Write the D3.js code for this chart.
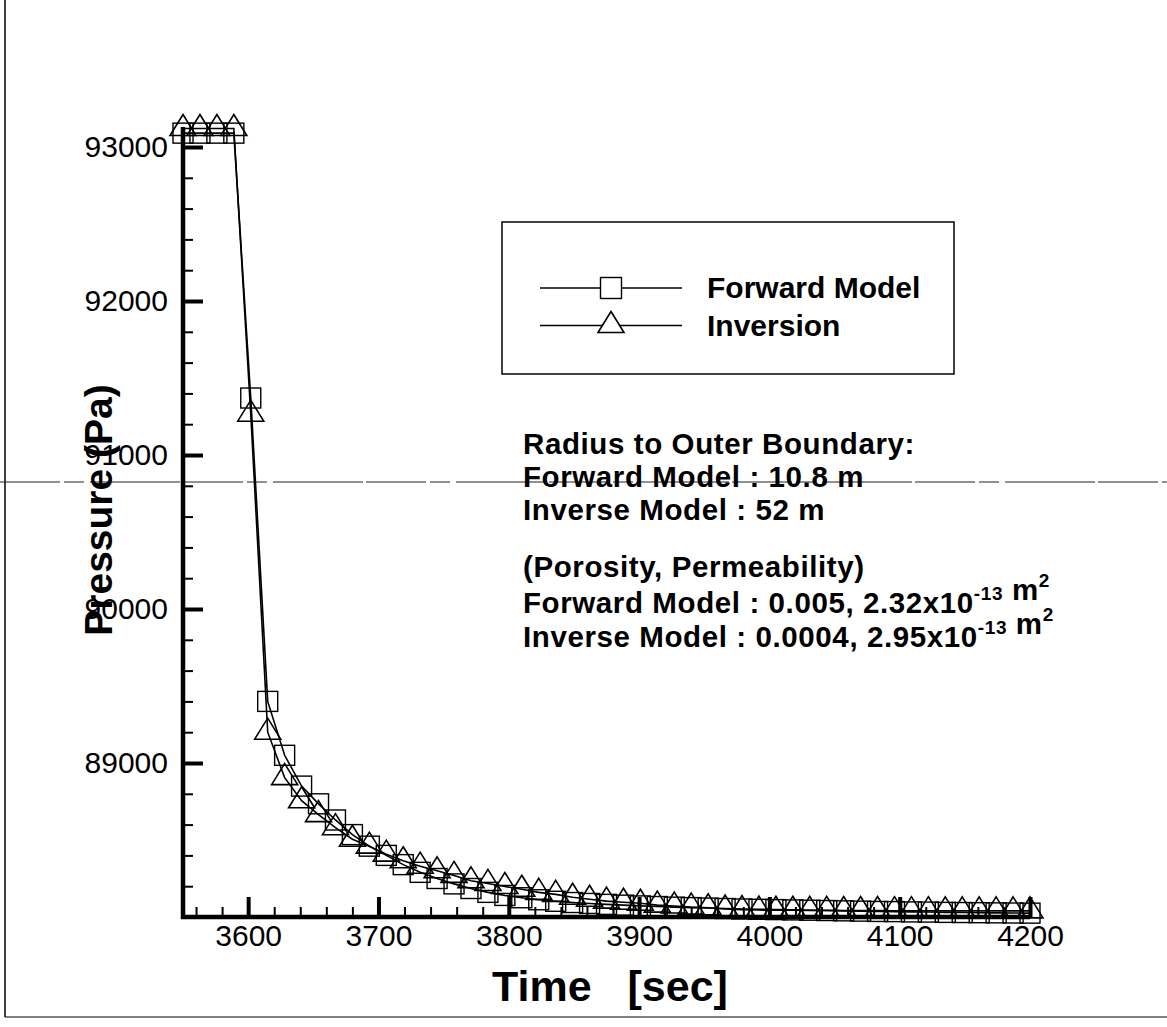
<!DOCTYPE html>
<html>
<head>
<meta charset="utf-8">
<script src="https://cdn.jsdelivr.net/npm/d3@7"></script>
<style>
  body { margin: 0; background: #fff; }
  svg { display: block; font-family: "Liberation Sans", Arial, Helvetica, sans-serif; }
</style>
</head>
<body>
<div id="chart"></div>
<script>
// Time samples [sec]
const times = [3550, 3563, 3576, 3589, 3602, 3615, 3628, 3641, 3654, 3667,
  3680, 3693, 3706, 3719, 3732, 3745, 3758, 3771, 3784, 3797,
  3810, 3823, 3836, 3849, 3862, 3875, 3888, 3901, 3914, 3927,
  3940, 3953, 3966, 3979, 3992, 4005, 4018, 4031, 4044, 4057,
  4070, 4083, 4096, 4109, 4122, 4135, 4148, 4161, 4174, 4187, 4200];

// Pressure [Pa], forward model (squares)
const forwardModel = [93090, 93090, 93090, 93090, 91370, 89400, 89050, 88850, 88735, 88630,
  88535, 88460, 88400, 88340, 88290, 88250, 88215, 88185, 88160, 88140,
  88125, 88112, 88102, 88094, 88088, 88082, 88077, 88072, 88068, 88064,
  88061, 88058, 88055, 88052, 88050, 88048, 88046, 88044, 88042, 88040,
  88038, 88036, 88035, 88033, 88032, 88030, 88029, 88028, 88027, 88026, 88025];

// Pressure [Pa], inversion (triangles)
const inversion = [93120, 93120, 93120, 93120, 91265, 89200, 88905, 88755, 88665, 88580,
  88505, 88460, 88408, 88365, 88330, 88300, 88270, 88235, 88218, 88198,
  88180, 88160, 88147, 88128, 88115, 88103, 88096, 88089, 88077, 88071,
  88064, 88060, 88052, 88048, 88045, 88044, 88044, 88043, 88043, 88042,
  88042, 88042, 88041, 88041, 88041, 88040, 88040, 88040, 88040, 88040, 88040];

const xTicks = [3600, 3700, 3800, 3900, 4000, 4100, 4200];
const yTicks = [89000, 90000, 91000, 92000, 93000];

const legendLabels = ["Forward Model", "Inversion"];

const width = 1167, height = 1027;

const svg = d3.select("#chart")
    .append("svg")
    .attr("width", width)
    .attr("height", height);

// page frame left/bottom (scan edge)
svg.append("line")
    .attr("x1", 5).attr("x2", 5).attr("y1", 0).attr("y2", 1017)
    .attr("stroke", "#000").attr("stroke-width", 1.5);
svg.append("line")
    .attr("x1", 5).attr("x2", 1167).attr("y1", 1017).attr("y2", 1017)
    .attr("stroke", "#000").attr("stroke-width", 1.2);
// faint scan line across page
svg.append("line")
    .attr("x1", 0).attr("x2", 1167).attr("y1", 482).attr("y2", 482)
    .attr("stroke", "#222").attr("stroke-width", 1)
    .attr("stroke-dasharray", "60,4,20,6,90,3");

// scales
const x = d3.scaleLinear().domain([3550, 4200]).range([183, 1030]);
const y = d3.scaleLinear().domain([88000, 93000]).range([917, 147]);
const yTop = 93130;

// series lines
const line = d3.line()
    .x((d, i) => x(times[i]))
    .y(d => y(d));

svg.append("path")
    .datum(forwardModel)
    .attr("d", line)
    .attr("fill", "none")
    .attr("stroke", "#000")
    .attr("stroke-width", 1.6);

svg.append("path")
    .datum(inversion)
    .attr("d", line)
    .attr("fill", "none")
    .attr("stroke", "#000")
    .attr("stroke-width", 1.6);

// markers
const sq = 20;
const triW = 26, triH = 21;
const triPath = "M0," + (-2 * triH / 3) + "L" + (triW / 2) + "," + (triH / 3) + "L" + (-triW / 2) + "," + (triH / 3) + "Z";

svg.append("g").selectAll("rect")
    .data(forwardModel)
    .enter().append("rect")
    .attr("x", (d, i) => x(times[i]) - sq / 2)
    .attr("y", d => y(d) - sq / 2)
    .attr("width", sq)
    .attr("height", sq)
    .attr("fill", "none")
    .attr("stroke", "#000")
    .attr("stroke-width", 1.4);

svg.append("g").selectAll("path")
    .data(inversion)
    .enter().append("path")
    .attr("transform", (d, i) => "translate(" + x(times[i]) + "," + y(d) + ")")
    .attr("d", triPath)
    .attr("fill", "none")
    .attr("stroke", "#000")
    .attr("stroke-width", 1.6);

// axes: minor ticks
const yMinor = d3.range(88200, 93001, 200).filter(v => v % 1000 !== 0);
const xMinor = d3.range(3560, 4200, 20).filter(v => v % 100 !== 0);

svg.append("g")
    .attr("transform", "translate(" + x(3550) + ",0)")
    .call(d3.axisLeft(y).tickValues(yMinor).tickSize(-10).tickFormat(""))
    .call(g => g.select(".domain").remove())
    .call(g => g.selectAll("line").attr("stroke-width", 2));

svg.append("g")
    .attr("transform", "translate(0," + y(88000) + ")")
    .call(d3.axisBottom(x).tickValues(xMinor).tickSize(-10).tickFormat(""))
    .call(g => g.select(".domain").remove())
    .call(g => g.selectAll("line").attr("stroke-width", 2));

// axes: major ticks with labels
svg.append("g")
    .attr("transform", "translate(" + x(3550) + ",0)")
    .call(d3.axisLeft(y).tickValues(yTicks).tickSize(-20).tickPadding(15).tickFormat(d3.format("d")))
    .call(g => g.select(".domain").remove())
    .call(g => g.selectAll("line").attr("stroke-width", 4))
    .call(g => g.selectAll("text").attr("font-size", 30).attr("fill", "#000")
        .attr("font-family", "'Liberation Sans', Arial, sans-serif"));

svg.append("g")
    .attr("transform", "translate(0," + y(88000) + ")")
    .call(d3.axisBottom(x).tickValues(xTicks).tickSize(-20).tickPadding(8).tickFormat(d3.format("d")))
    .call(g => g.select(".domain").remove())
    .call(g => g.selectAll("line").attr("stroke-width", 4))
    .call(g => g.selectAll("text").attr("font-size", 30).attr("fill", "#000")
        .attr("font-family", "'Liberation Sans', Arial, sans-serif"));

// axis lines
svg.append("line")
    .attr("x1", x(3550)).attr("x2", x(3550))
    .attr("y1", y(88000) + 2).attr("y2", y(yTop))
    .attr("stroke", "#000").attr("stroke-width", 4.5);
svg.append("line")
    .attr("x1", x(3550) - 2).attr("x2", x(4200))
    .attr("y1", y(88000)).attr("y2", y(88000))
    .attr("stroke", "#000").attr("stroke-width", 4.5);

// axis titles
svg.append("text")
    .attr("x", 610)
    .attr("y", 1001)
    .attr("text-anchor", "middle")
    .attr("font-size", 43)
    .attr("font-weight", "bold")
    .attr("xml:space", "preserve")
    .style("white-space", "pre")
    .text("Time   [sec]");

svg.append("text")
    .attr("transform", "translate(112,510) rotate(-90)")
    .attr("text-anchor", "middle")
    .attr("font-size", 39)
    .attr("font-weight", "bold")
    .text("Pressure (Pa)");

// legend
const legend = svg.append("g");
legend.append("rect")
    .attr("x", 502).attr("y", 222)
    .attr("width", 452).attr("height", 152)
    .attr("fill", "none").attr("stroke", "#000").attr("stroke-width", 1.5);

const legendY = [288, 325.5];
legendLabels.forEach((label, i) => {
    legend.append("line")
        .attr("x1", 540).attr("x2", 682)
        .attr("y1", legendY[i]).attr("y2", legendY[i])
        .attr("stroke", "#000").attr("stroke-width", 1.4);
    if (i === 0) {
        legend.append("rect")
            .attr("x", 611 - 10.5).attr("y", legendY[i] - 10.5)
            .attr("width", 21).attr("height", 21)
            .attr("fill", "#fff").attr("stroke", "#000").attr("stroke-width", 1.4);
    } else {
        legend.append("path")
            .attr("transform", "translate(611," + legendY[i] + ")")
            .attr("d", triPath)
            .attr("fill", "#fff").attr("stroke", "#000").attr("stroke-width", 1.6);
    }
    legend.append("text")
        .attr("x", 707)
        .attr("y", legendY[i] + 10)
        .attr("font-size", 30)
        .attr("font-weight", "bold")
        .text(label);
});

// annotation block
const note = svg.append("g")
    .attr("font-size", 29.5)
    .attr("letter-spacing", 0.6)
    .attr("font-weight", "bold");

function noteLine(yPos, parts) {
    const t = note.append("text").attr("x", 523).attr("y", yPos);
    parts.forEach(p => {
        if (typeof p === "object") {
            t.append("tspan").attr("dy", -13).attr("font-size", 19).text(p.sup);
            t.append("tspan").attr("dy", 13).text("");
        } else {
            t.append("tspan").text(p);
        }
    });
}

noteLine(454, ["Radius to Outer Boundary:"]);
noteLine(487, ["Forward Model : 10.8 m"]);
noteLine(520, ["Inverse Model : 52 m"]);
noteLine(577, ["(Porosity, Permeability)"]);
noteLine(613, ["Forward Model : 0.005, 2.32x10", { sup: "-13" }, " m", { sup: "2" }]);
noteLine(647, ["Inverse Model : 0.0004, 2.95x10", { sup: "-13" }, " m", { sup: "2" }]);
</script>
</body>
</html>
